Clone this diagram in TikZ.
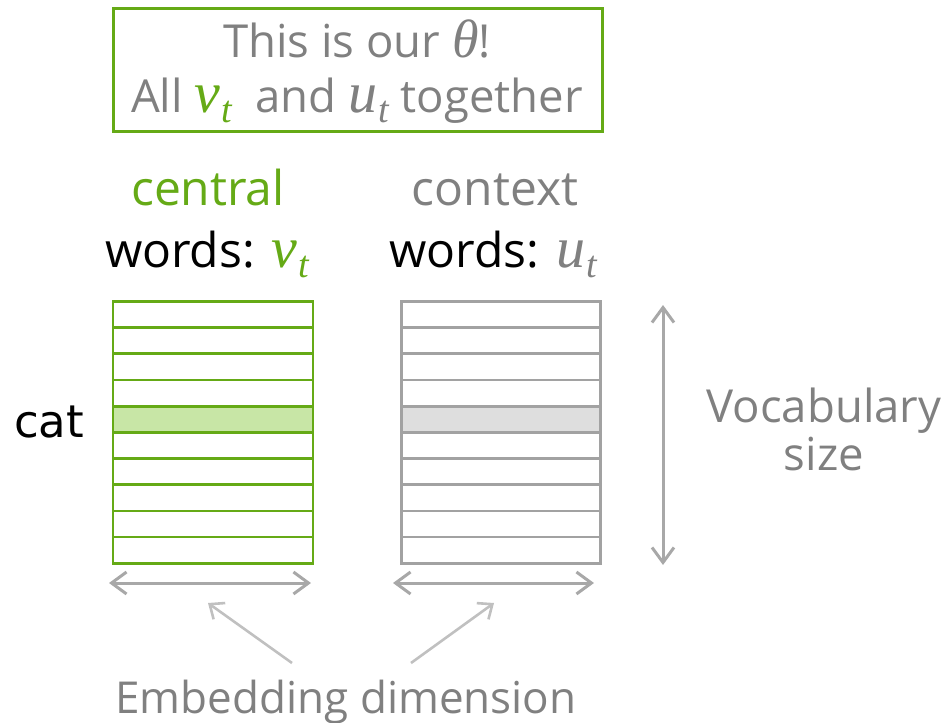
\documentclass[tikz,border=0pt]{standalone}
\usepackage{fontspec}
\setmainfont{Open Sans}
\newfontfamily\catfont{DejaVu Sans}
\newfontfamily\symfont{Liberation Serif}
\usetikzlibrary{arrows.meta}

\definecolor{leafgreen}{RGB}{101,170,22}
\definecolor{lightleaf}{RGB}{200,230,166}
\definecolor{txtgray}{RGB}{128,128,128}
\definecolor{linegray}{RGB}{162,162,162}
\definecolor{rowgray}{RGB}{222,222,222}
\definecolor{arrowgray}{RGB}{168,168,168}
\definecolor{pointergray}{RGB}{192,192,192}

% italic serif symbol with an optional lowered index
\newcommand{\symvar}[1]{{\symfont\itshape\fontsize{54}{54}\selectfont #1}}
\newcommand{\symidx}[2]{{\symfont\itshape\fontsize{58}{58}\selectfont #1\kern1pt\raisebox{-10pt}{\fontsize{38}{38}\selectfont #2}}}

\tikzset{
  big/.style={font=\fontsize{48}{56}\selectfont, anchor=base, inner sep=0pt},
  mid/.style={font=\fontsize{45.5}{52}\selectfont, anchor=base, inner sep=0pt},
  catlabel/.style={font=\catfont\fontsize{45}{50}\selectfont, anchor=base west, inner sep=0pt},
  cell/.style={line width=2.7pt},
  dimarrow/.style={arrowgray, line width=3pt,
    {Straight Barb[length=15pt,width=22pt]}-{Straight Barb[length=15pt,width=22pt]}},
  pointer/.style={pointergray, line width=2.6pt, -{Straight Barb[length=12pt,width=20pt]}},
}

\begin{document}
\begin{tikzpicture}[x=1pt,y=-1pt]
\useasboundingbox (0,0) rectangle (948,723);

% parameter box
\node[draw=leafgreen, line width=3pt, minimum width=489pt, minimum height=123pt, inner sep=0pt]
  (thetabox) at (357.5,69.5) {};
\node[mid, txtgray] (thetaline) at (357,57) {This is our \symvar{θ}!};
\node[mid, txtgray] (togetherline) at (357,112)
  {All \textcolor{leafgreen}{\symidx{v}{t}}\ \ and \symidx{u}{t} together};

% column headings
\node[big, leafgreen] (centralhead) at (208,205) {central};
\node[big, black] (centralwords) at (207,267) {words: \textcolor{leafgreen}{\symidx{v}{t}}};
\node[big, txtgray] (contexthead) at (495,205) {context};
\node[big, black] (contextwords) at (493,267) {words: \textcolor{txtgray}{\symidx{u}{t}}};

% central word matrix
\fill[lightleaf] (113,{301.5+26.17*4}) rectangle (313,{301.5+26.17*5});
\foreach \i in {0,...,9}
  \draw[cell, leafgreen] (113,{301.5+26.17*\i}) rectangle (313,{301.5+26.17*(\i+1)});
\node[inner sep=0pt, minimum width=200pt, minimum height=261.7pt] (vmat) at (213,432.35) {};

% context word matrix
\fill[rowgray] (401.5,{301.5+26.17*4}) rectangle (600.5,{301.5+26.17*5});
\foreach \i in {0,...,9}
  \draw[cell, linegray] (401.5,{301.5+26.17*\i}) rectangle (600.5,{301.5+26.17*(\i+1)});
\node[inner sep=0pt, minimum width=199pt, minimum height=261.7pt] (umat) at (501,432.35) {};

% row label
\node[catlabel] (cat) at (14,437) {cat};

% vocabulary size
\coordinate (vtop) at (663,305);
\coordinate (vbot) at (663,565);
\draw[dimarrow] (vtop) -- (vbot);
\node[mid, txtgray] (vocab) at (824,422) {Vocabulary};
\node[mid, txtgray] (vsize) at (824,470) {size};

% embedding dimension
\coordinate (vl) at (109,583);
\coordinate (vr) at (311,583);
\coordinate (ul) at (393,583);
\coordinate (ur) at (594,583);
\draw[dimarrow] (vl) -- (vr);
\draw[dimarrow] (ul) -- (ur);
\node[mid, txtgray, font=\fontsize{44}{50}\selectfont] (embdim) at (346,713) {Embedding dimension};
\coordinate (pl) at (292,663);
\coordinate (pr) at (411,663);
\coordinate (plend) at (208,603);
\coordinate (prend) at (494,603);
\draw[pointer] (pl) -- (plend);
\draw[pointer] (pr) -- (prend);
\end{tikzpicture}
\end{document}
